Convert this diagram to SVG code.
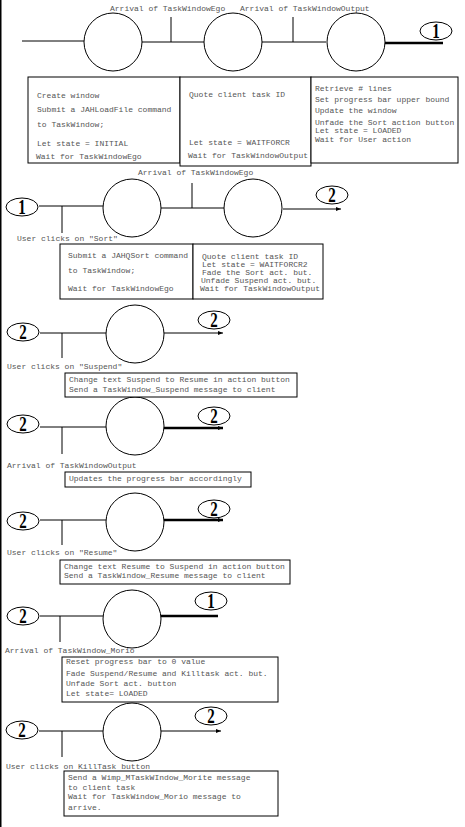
<svg xmlns="http://www.w3.org/2000/svg" width="465" height="827" viewBox="0 0 465 827">
<style>
.ln{stroke:#000;stroke-width:1;fill:none}
.thk{stroke:#000;stroke-width:2.5;fill:none}
.st{fill:#fff;stroke:#000;stroke-width:1}
.bx{fill:#fff;stroke:#000;stroke-width:1}
.t{font-family:"Liberation Mono","DejaVu Sans Mono",monospace;font-size:8px;fill:#555}
.num{font-family:"Liberation Serif","DejaVu Serif",serif;font-size:20px;font-weight:bold;fill:#000;text-anchor:middle}
.conn{fill:#fff;stroke:#000;stroke-width:1}
</style>
<defs>
<marker id="ah" markerUnits="userSpaceOnUse" markerWidth="6" markerHeight="6" refX="5" refY="3" orient="auto">
<path d="M0,1 L5,3 L0,5 Z" fill="#000"/>
</marker>
</defs>
<rect x="0" y="0" width="465" height="827" fill="#fff"/>
<rect x="0" y="0" width="1.5" height="827" fill="#000"/>

<g id="connectors">
<line class="ln" x1="22" y1="41" x2="84" y2="41"/>
<line class="ln" x1="142" y1="42" x2="204" y2="42"/>
<line class="ln" x1="171" y1="17" x2="171" y2="42"/>
<line class="ln" x1="262" y1="42" x2="326" y2="42"/>
<line class="ln" x1="293" y1="17" x2="293" y2="42"/>
<line class="thk" x1="385" y1="43" x2="443" y2="43"/>
<text class="t" x="110" y="11">Arrival of TaskWindowEgo</text>
<text class="t" x="240" y="11">Arrival of TaskWindowOutput</text>
<line class="ln" x1="39" y1="206" x2="103" y2="206"/>
<line class="ln" x1="62" y1="206" x2="62" y2="233"/>
<line class="ln" x1="161" y1="208" x2="224" y2="208"/>
<line class="ln" x1="192" y1="183" x2="192" y2="208"/>
<line class="ln" x1="283" y1="209" x2="341" y2="209" marker-end="url(#ah)"/>
<text class="t" x="138" y="175">Arrival of TaskWindowEgo</text>
<text class="t" x="17" y="241">User clicks on "Sort"</text>
<line class="ln" x1="40" y1="333" x2="106" y2="333"/>
<line class="ln" x1="62" y1="333" x2="62" y2="358"/>
<line class="ln" x1="164" y1="333" x2="223" y2="333" marker-end="url(#ah)"/>
<text class="t" x="7" y="369">User clicks on "Suspend"</text>
<line class="ln" x1="40" y1="427" x2="106" y2="427"/>
<line class="ln" x1="62" y1="427" x2="62" y2="454"/>
<line class="thk" x1="164" y1="428" x2="223" y2="428" marker-end="url(#ah)"/>
<text class="t" x="7" y="468">Arrival of TaskWindowOutput</text>
<line class="ln" x1="40" y1="520" x2="106" y2="520"/>
<line class="ln" x1="62" y1="520" x2="62" y2="545"/>
<line class="thk" x1="164" y1="520" x2="223" y2="520" marker-end="url(#ah)"/>
<text class="t" x="7" y="555">User clicks on "Resume"</text>
<line class="ln" x1="40" y1="616" x2="103" y2="616"/>
<line class="ln" x1="60" y1="616" x2="60" y2="642"/>
<line class="thk" x1="161" y1="616" x2="218" y2="616"/>
<text class="t" x="5" y="653">Arrival of TaskWindow_Morio</text>
<line class="ln" x1="39" y1="731" x2="103" y2="731"/>
<line class="ln" x1="62" y1="731" x2="62" y2="757"/>
<line class="ln" x1="161" y1="731" x2="221" y2="731" marker-end="url(#ah)"/>
<text class="t" x="6" y="769">User clicks on KillTask button</text>
</g>

<g id="conn-1-top"><ellipse class="conn" cx="436" cy="31" rx="16" ry="9"/><text class="num" transform="translate(436,38) scale(0.75,1)">1</text></g>
<g id="conn-1-in"><ellipse class="conn" cx="22" cy="207" rx="16" ry="9"/><text class="num" transform="translate(22,214) scale(0.75,1)">1</text></g>
<g id="conn-2-out-a"><ellipse class="conn" cx="332" cy="195" rx="16" ry="9"/><text class="num" transform="translate(332,202) scale(0.75,1)">2</text></g>
<g id="conn-2-in-b"><ellipse class="conn" cx="23" cy="332" rx="16" ry="9"/><text class="num" transform="translate(23,339) scale(0.75,1)">2</text></g>
<g id="conn-2-out-b"><ellipse class="conn" cx="214" cy="320" rx="16" ry="9"/><text class="num" transform="translate(214,327) scale(0.75,1)">2</text></g>
<g id="conn-2-in-c"><ellipse class="conn" cx="23" cy="424" rx="16" ry="9"/><text class="num" transform="translate(23,431) scale(0.75,1)">2</text></g>
<g id="conn-2-out-c"><ellipse class="conn" cx="214" cy="416" rx="16" ry="9"/><text class="num" transform="translate(214,423) scale(0.75,1)">2</text></g>
<g id="conn-2-in-d"><ellipse class="conn" cx="23" cy="521" rx="16" ry="9"/><text class="num" transform="translate(23,528) scale(0.75,1)">2</text></g>
<g id="conn-2-out-d"><ellipse class="conn" cx="214" cy="509" rx="16" ry="9"/><text class="num" transform="translate(214,516) scale(0.75,1)">2</text></g>
<g id="conn-2-in-e"><ellipse class="conn" cx="23" cy="616" rx="16" ry="9"/><text class="num" transform="translate(23,623) scale(0.75,1)">2</text></g>
<g id="conn-1-out-e"><ellipse class="conn" cx="211" cy="601" rx="16" ry="9"/><text class="num" transform="translate(211,608) scale(0.75,1)">1</text></g>
<g id="conn-2-in-f"><ellipse class="conn" cx="22" cy="730" rx="16" ry="9"/><text class="num" transform="translate(22,737) scale(0.75,1)">2</text></g>
<g id="conn-2-out-f"><ellipse class="conn" cx="211" cy="716" rx="16" ry="9"/><text class="num" transform="translate(211,723) scale(0.75,1)">2</text></g>

<g id="s1a"><circle class="st" cx="113" cy="42" r="29"/></g>
<g id="s1b"><circle class="st" cx="233" cy="42" r="29"/></g>
<g id="s1c"><circle class="st" cx="356" cy="42" r="29"/></g>
<g id="s2a"><circle class="st" cx="132" cy="208" r="29"/></g>
<g id="s2b"><circle class="st" cx="253" cy="208" r="29"/></g>
<g id="s3"><circle class="st" cx="135" cy="334" r="29"/></g>
<g id="s4"><circle class="st" cx="135" cy="426" r="29"/></g>
<g id="s5"><circle class="st" cx="135" cy="522" r="29"/></g>
<g id="s6"><circle class="st" cx="132" cy="619" r="29"/></g>
<g id="s7"><circle class="st" cx="132" cy="732" r="29"/></g>

<g id="box1a"><rect class="bx" x="28" y="77" width="152" height="86"/>
<text class="t" x="37" y="98">Create window</text>
<text class="t" x="37" y="112">Submit a JAHLoadFile command</text>
<text class="t" x="37" y="127">to TaskWindow;</text>
<text class="t" x="37" y="146">Let state = INITIAL</text>
<text class="t" x="36" y="159">Wait for TaskWindowEgo</text></g>
<g id="box1b"><rect class="bx" x="180" y="77" width="131" height="89"/>
<text class="t" x="189" y="97">Quote client task ID</text>
<text class="t" x="189" y="145">Let state = WAITFORCR</text>
<text class="t" x="188" y="158">Wait for TaskWindowOutput</text></g>
<g id="box1c"><rect class="bx" x="311" y="77" width="147" height="86"/>
<text class="t" x="315" y="91">Retrieve # lines</text>
<text class="t" x="315" y="102">Set progress bar upper bound</text>
<text class="t" x="315" y="113">Update the window</text>
<text class="t" x="315" y="124.5">Unfade the Sort action button</text>
<text class="t" x="315" y="133">Let state = LOADED</text>
<text class="t" x="315" y="142">Wait for User action</text></g>
<g id="box2a"><rect class="bx" x="60" y="244" width="133" height="55"/>
<text class="t" x="68" y="258">Submit a JAHQSort command</text>
<text class="t" x="68" y="273">to TaskWindow;</text>
<text class="t" x="68" y="291">Wait for TaskWindowEgo</text></g>
<g id="box2b"><rect class="bx" x="193" y="244" width="130" height="55"/>
<text class="t" x="202" y="259">Quote client task ID</text>
<text class="t" x="202" y="267">Let state = WAITFORCR2</text>
<text class="t" x="202" y="275">Fade the Sort act. but.</text>
<text class="t" x="201" y="283">Unfade Suspend act. but.</text>
<text class="t" x="200" y="291">Wait for TaskWindowOutput</text></g>
<g id="box3"><rect class="bx" x="65" y="373" width="232" height="24"/>
<text class="t" x="69" y="382">Change text Suspend to Resume in action button</text>
<text class="t" x="69" y="392">Send a TaskWindow_Suspend message to client</text></g>
<g id="box4"><rect class="bx" x="65" y="472" width="186" height="15"/>
<text class="t" x="69" y="481">Updates the progress bar accordingly</text></g>
<g id="box5"><rect class="bx" x="60" y="560" width="230" height="24"/>
<text class="t" x="64" y="569">Change text Resume to Suspend in action button</text>
<text class="t" x="64" y="578">Send a TaskWindow_Resume message to client</text></g>
<g id="box6"><rect class="bx" x="62" y="657" width="216" height="45"/>
<text class="t" x="66" y="664">Reset progress bar to 0 value</text>
<text class="t" x="66" y="676">Fade Suspend/Resume and Killtask act. but.</text>
<text class="t" x="66" y="686">Unfade Sort act. button</text>
<text class="t" x="66" y="696">Let state= LOADED</text></g>
<g id="box7"><rect class="bx" x="64" y="771" width="214" height="45"/>
<text class="t" x="68" y="780">Send a Wimp_MTaskWIndow_Morite message</text>
<text class="t" x="68" y="790">to client task</text>
<text class="t" x="68" y="799">Wait for TaskWindow_Morio message to</text>
<text class="t" x="68" y="810">arrive.</text></g>
</svg>
